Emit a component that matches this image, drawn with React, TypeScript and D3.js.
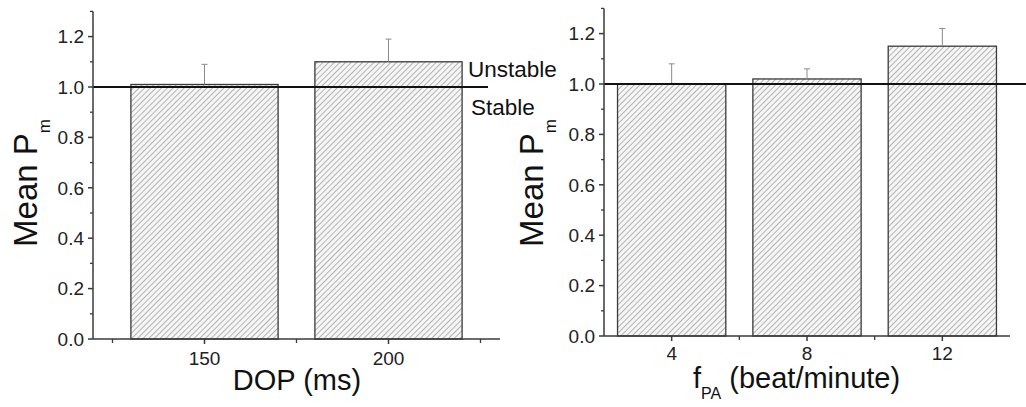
import React from "react";
import * as d3 from "d3";

const leftCategories = ["150", "200"];
const leftValues = [1.01, 1.1];
const leftErrors = [0.08, 0.09];

const rightCategories = ["4", "8", "12"];
const rightValues = [1.0, 1.02, 1.15];
const rightErrors = [0.08, 0.04, 0.07];

const yTicks = [0, 0.2, 0.4, 0.6, 0.8, 1.0, 1.2];
const yMinorTicks = [0.1, 0.3, 0.5, 0.7, 0.9, 1.1, 1.3];
const refValue = 1.0;

const FONT = "'Liberation Sans', Arial, Helvetica, sans-serif";
const AXIS = "#3a3a3a";

type PanelProps = {
  cats: string[];
  vals: number[];
  errs: number[];
  x0: number;
  x1: number;
  y0: number;
  outer: number;
  refEnd: number;
  id: string;
  yLabelX: number;
  outerMinor: boolean;
  xLabelOffset: number;
};

function Panel(p: PanelProps) {
  const x = d3
    .scaleBand<string>()
    .domain(p.cats)
    .range([p.x0, p.x1])
    .paddingInner(0.2)
    .paddingOuter(p.outer);
  const y = d3.scaleLinear().domain([0, 1.3]).range([p.y0, p.y0 - 1.3 * 252]);
  const step = x.step();
  const bw = x.bandwidth();
  const centers = p.cats.map((c) => (x(c) as number) + bw / 2);
  const minorX: number[] = [];
  centers.forEach((c, i) => {
    if (i < centers.length - 1) minorX.push(c + step / 2);
  });
  if (p.outerMinor) {
    minorX.push(centers[0] - step / 2);
    minorX.push(centers[centers.length - 1] + step / 2);
  }
  return (
    <g>
      {p.cats.map((c, i) => (
        <rect
          key={c}
          x={x(c)}
          y={y(p.vals[i])}
          width={bw}
          height={y(0) - y(p.vals[i])}
          fill={`url(#hatch${p.id})`}
          stroke="#3a3a3a"
          strokeWidth={1.3}
        />
      ))}
      {p.cats.map((c, i) => {
        const cx = centers[i];
        const top = y(p.vals[i] + p.errs[i]);
        return (
          <g key={"e" + c} stroke="#8a8a8a" strokeWidth={1}>
            <line x1={cx} x2={cx} y1={y(p.vals[i])} y2={top} />
            <line x1={cx - 3} x2={cx + 3} y1={top} y2={top} />
          </g>
        );
      })}
      <line
        x1={p.x0}
        x2={p.refEnd}
        y1={y(refValue)}
        y2={y(refValue)}
        stroke="#111"
        strokeWidth={2}
      />
      <line x1={p.x0} x2={p.x0} y1={y(0)} y2={y(1.3)} stroke={AXIS} strokeWidth={1.5} />
      {yTicks.map((t) => (
        <g key={"yt" + t}>
          <line x1={p.x0 - 5} x2={p.x0} y1={y(t)} y2={y(t)} stroke={AXIS} strokeWidth={1.5} />
          <text
            x={p.x0 - 9}
            y={y(t)}
            dy="0.36em"
            textAnchor="end"
            fontSize={19}
            fontFamily={FONT}
            fill="#222"
          >
            {t.toFixed(1)}
          </text>
        </g>
      ))}
      {yMinorTicks.map((t) => (
        <line key={"ym" + t} x1={p.x0 - 3} x2={p.x0} y1={y(t)} y2={y(t)} stroke={AXIS} strokeWidth={1.3} />
      ))}
      <line x1={p.x0} x2={p.x1} y1={y(0)} y2={y(0)} stroke={AXIS} strokeWidth={1.5} />
      {centers.map((c, i) => (
        <g key={"xt" + i}>
          <line x1={c} x2={c} y1={y(0)} y2={y(0) + 5} stroke={AXIS} strokeWidth={1.5} />
          <text
            x={c}
            y={y(0) + p.xLabelOffset}
            textAnchor="middle"
            fontSize={19}
            fontFamily={FONT}
            fill="#222"
          >
            {p.cats[i]}
          </text>
        </g>
      ))}
      {minorX.map((m, i) => (
        <line key={"xm" + i} x1={m} x2={m} y1={y(0)} y2={y(0) + 4} stroke={AXIS} strokeWidth={1.3} />
      ))}
      <text
        transform={`translate(${p.yLabelX},183) rotate(-90)`}
        textAnchor="middle"
        fontFamily={FONT}
        fontSize={33}
        fill="#111"
      >
        Mean P
        <tspan fontSize={17} dy={13}>
          m
        </tspan>
      </text>
    </g>
  );
}

export default function App() {
  return (
    <svg
      width={1026}
      height={407}
      style={{ position: "absolute", left: 0, top: 0, background: "#fff" }}
    >
      <defs>
        {["L", "R"].map((id) => (
          <pattern
            key={id}
            id={"hatch" + id}
            patternUnits="userSpaceOnUse"
            width={4}
            height={4}
            patternTransform="rotate(45)"
          >
            <rect width={4} height={4} fill="#f6f6f6" />
            <line x1={0} y1={0} x2={0} y2={4} stroke="#a2a2a2" strokeWidth={1.6} />
          </pattern>
        ))}
      </defs>
      <rect width={1026} height={407} fill="#fff" />
      <Panel
        cats={leftCategories}
        vals={leftValues}
        errs={leftErrors}
        x0={93}
        x1={500}
        y0={339}
        outer={0.206}
        refEnd={488}
        id="L"
        yLabelX={37}
        outerMinor={true}
        xLabelOffset={26}
      />
      <Panel
        cats={rightCategories}
        vals={rightValues}
        errs={rightErrors}
        x0={604}
        x1={1010}
        y0={336}
        outer={0.1}
        refEnd={1026}
        id="R"
        yLabelX={543}
        outerMinor={false}
        xLabelOffset={24}
      />
      <text x={468} y={77} fontFamily={FONT} fontSize={22.5} fill="#111">
        Unstable
      </text>
      <text x={471} y={115} fontFamily={FONT} fontSize={22.5} fill="#111">
        Stable
      </text>
      <text x={297} y={390} textAnchor="middle" fontFamily={FONT} fontSize={29} fill="#111">
        DOP (ms)
      </text>
      <text x={693} y={388} fontFamily={FONT} fontSize={29} fill="#111">
        f
        <tspan fontSize={16} dy={11}>
          PA
        </tspan>
        <tspan dy={-11}> (beat/minute)</tspan>
      </text>
    </svg>
  );
}
